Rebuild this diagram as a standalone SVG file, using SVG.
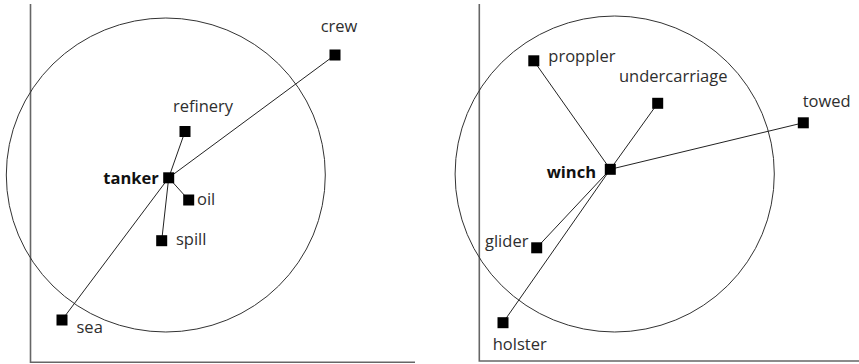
<svg xmlns="http://www.w3.org/2000/svg" width="859" height="364" viewBox="0 0 859 364">
<style>
.axis{stroke:#666;stroke-width:1.6;fill:none}
.ring{stroke:#333;stroke-width:1;fill:none}
.edge{stroke:#222;stroke-width:1;fill:none}
.sq{fill:#000}
text{font-family:"Open Sans","Liberation Sans",sans-serif;font-size:16.5px;fill:#2e2e2e}
.hub{font-weight:bold;fill:#111}
</style>
<rect width="859" height="364" fill="#fff"/>
<g id="axes">
<path class="axis" d="M30.5 4V362.3H415"/>
<path class="axis" d="M479.3 4V361H859"/>
</g>
<g id="circles">
<ellipse class="ring" cx="165.8" cy="175" rx="159.5" ry="157"/>
<ellipse class="ring" cx="614.7" cy="174" rx="159.6" ry="158"/>
</g>
<g id="connectors">
<line class="edge" x1="168.7" y1="177.8" x2="335" y2="55"/>
<line class="edge" x1="168.7" y1="177.8" x2="185" y2="131.5"/>
<line class="edge" x1="168.7" y1="177.8" x2="188.7" y2="200"/>
<line class="edge" x1="168.7" y1="177.8" x2="161.7" y2="240.7"/>
<line class="edge" x1="168.7" y1="177.8" x2="62" y2="320"/>
<line class="edge" x1="610.3" y1="169.3" x2="533.8" y2="60.8"/>
<line class="edge" x1="610.3" y1="169.3" x2="657.7" y2="103.3"/>
<line class="edge" x1="610.3" y1="169.3" x2="803.3" y2="122.8"/>
<line class="edge" x1="610.3" y1="169.3" x2="536.7" y2="247.8"/>
<line class="edge" x1="610.3" y1="169.3" x2="503" y2="322.7"/>
</g>
<g id="tanker"><rect class="sq" x="163.2" y="172.3" width="11" height="11"/><text class="hub" x="103.3" y="184">tanker</text></g>
<g id="crew"><rect class="sq" x="329.5" y="49.5" width="11" height="11"/><text x="320.7" y="32.3">crew</text></g>
<g id="refinery"><rect class="sq" x="179.5" y="126" width="11" height="11"/><text x="173" y="111.5">refinery</text></g>
<g id="oil"><rect class="sq" x="183.2" y="194.5" width="11" height="11"/><text x="197" y="205">oil</text></g>
<g id="spill"><rect class="sq" x="156.2" y="235.2" width="11" height="11"/><text x="176" y="245">spill</text></g>
<g id="sea"><rect class="sq" x="56.5" y="314.5" width="11" height="11"/><text x="76.5" y="333.3">sea</text></g>
<g id="winch"><rect class="sq" x="604.8" y="163.8" width="11" height="11"/><text class="hub" x="546.7" y="178">winch</text></g>
<g id="proppler"><rect class="sq" x="528.3" y="55.3" width="11" height="11"/><text x="548.3" y="62.3">proppler</text></g>
<g id="undercarriage"><rect class="sq" x="652.2" y="97.8" width="11" height="11"/><text x="619" y="81.7">undercarriage</text></g>
<g id="towed"><rect class="sq" x="797.8" y="117.3" width="11" height="11"/><text x="802.7" y="107.3">towed</text></g>
<g id="glider"><rect class="sq" x="531.2" y="242.3" width="11" height="11"/><text x="485" y="246.7">glider</text></g>
<g id="holster"><rect class="sq" x="497.5" y="317.2" width="11" height="11"/><text x="492.7" y="350">holster</text></g>
</svg>
